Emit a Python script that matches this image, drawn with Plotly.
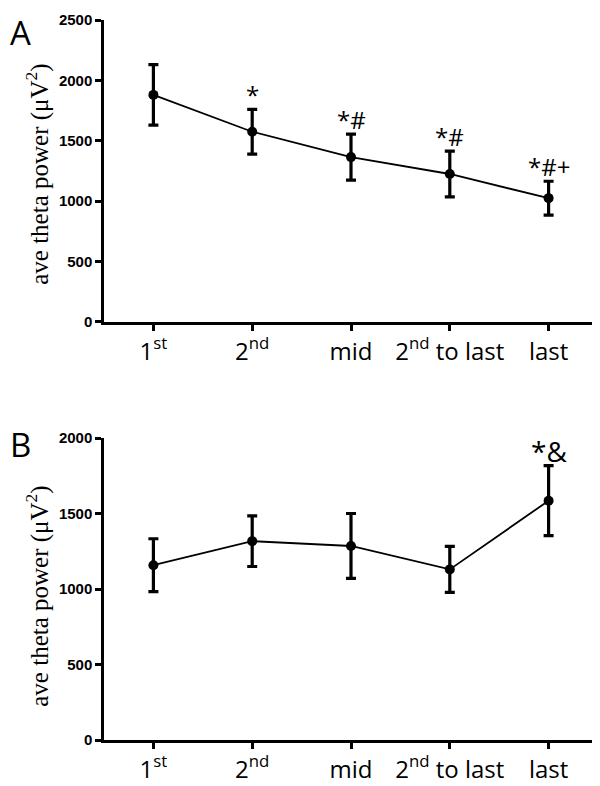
import plotly.graph_objects as go

categories = ["1st", "2nd", "mid", "2nd to last", "last"]
tick_labels = ["1<sup>st</sup>", "2<sup>nd</sup>", "mid", "2<sup>nd</sup> to last", "last"]
a_mean = [1880, 1575, 1365, 1225, 1025]
a_err = [250, 185, 190, 190, 140]
a_marks = ["", "*", "*#", "*#", "*#+"]
b_mean = [1158, 1317, 1285, 1130, 1585]
b_err = [175, 168, 215, 152, 232]
b_marks = ["", "", "", "", "*&"]
a_ticks = [0, 500, 1000, 1500, 2000, 2500]
b_ticks = [0, 500, 1000, 1500, 2000]
y_title = "ave theta power (μV<sup>2</sup>)"

xpos = list(range(len(categories)))

fig = go.Figure()

def add_panel(mean, err, xa, ya):
    fig.add_trace(go.Scatter(
        x=xpos, y=mean, xaxis=xa, yaxis=ya, mode="lines+markers",
        line=dict(color="black", width=1.8),
        marker=dict(color="black", size=10),
        error_y=dict(type="data", array=err, visible=True, color="black",
                     thickness=3.2, width=5),
        showlegend=False, hoverinfo="skip"))

add_panel(a_mean, a_err, "x", "y")
add_panel(b_mean, b_err, "x2", "y2")

axis_common = dict(showline=True, linecolor="black", linewidth=2.5, showgrid=False,
                   zeroline=False, ticks="outside", ticklen=6, tickwidth=2.5,
                   tickcolor="black", automargin=False)
xfont = dict(family="Open Sans", size=24, color="black")
yfont = dict(family="Liberation Sans", size=15, color="black", weight=700)

# page body adds an 8px margin, so the figure is 8px smaller in each direction
fig.update_layout(
    width=592, height=778,
    margin=dict(l=96, r=2, t=12, b=46),
    paper_bgcolor="white", plot_bgcolor="white",
    xaxis=dict(domain=[0, 1], anchor="y", range=[-0.5, 4.5], tickvals=xpos,
               ticktext=tick_labels, tickfont=xfont, **axis_common),
    yaxis=dict(domain=[0.5806, 1], anchor="x", range=[0, 2500], tickvals=a_ticks,
               tickfont=yfont, **axis_common),
    xaxis2=dict(domain=[0, 1], anchor="y2", range=[-0.5, 4.5], tickvals=xpos,
                ticktext=tick_labels, tickfont=xfont, **axis_common),
    yaxis2=dict(domain=[0, 0.4194], anchor="x2", range=[0, 2000], tickvals=b_ticks,
                tickfont=yfont, **axis_common),
)

annotations = []
for xi, m, e, t in zip(xpos, a_mean, a_err, a_marks):
    if t:
        annotations.append(dict(x=xi, y=m + e, xref="x", yref="y", text=t,
                                showarrow=False, yanchor="bottom", yshift=-4,
                                font=dict(family="Open Sans", size=24, color="black")))
for xi, m, e, t in zip(xpos, b_mean, b_err, b_marks):
    if t:
        annotations.append(dict(x=xi, y=m + e, xref="x2", yref="y2", text=t,
                                showarrow=False, yanchor="bottom", yshift=-6,
                                font=dict(family="Open Sans", size=28, color="black")))

annotations += [
    dict(x=-0.1943, y=1.0167, xref="paper", yref="paper", text="A", showarrow=False,
         xanchor="left", yanchor="top", font=dict(family="Open Sans", size=33, color="black")),
    dict(x=-0.1943, y=0.411, xref="paper", yref="paper", text="B", showarrow=False,
         xanchor="left", yanchor="middle", font=dict(family="Open Sans", size=33, color="black")),
    dict(x=-0.1336, y=0.785, xref="paper", yref="paper", text=y_title, showarrow=False,
         textangle=-90, xanchor="center", yanchor="middle",
         font=dict(family="Liberation Serif", size=25, color="black")),
    dict(x=-0.1336, y=0.199, xref="paper", yref="paper", text=y_title, showarrow=False,
         textangle=-90, xanchor="center", yanchor="middle",
         font=dict(family="Liberation Serif", size=25, color="black")),
]
fig.update_layout(annotations=annotations)

fig.write_html("out.html")
